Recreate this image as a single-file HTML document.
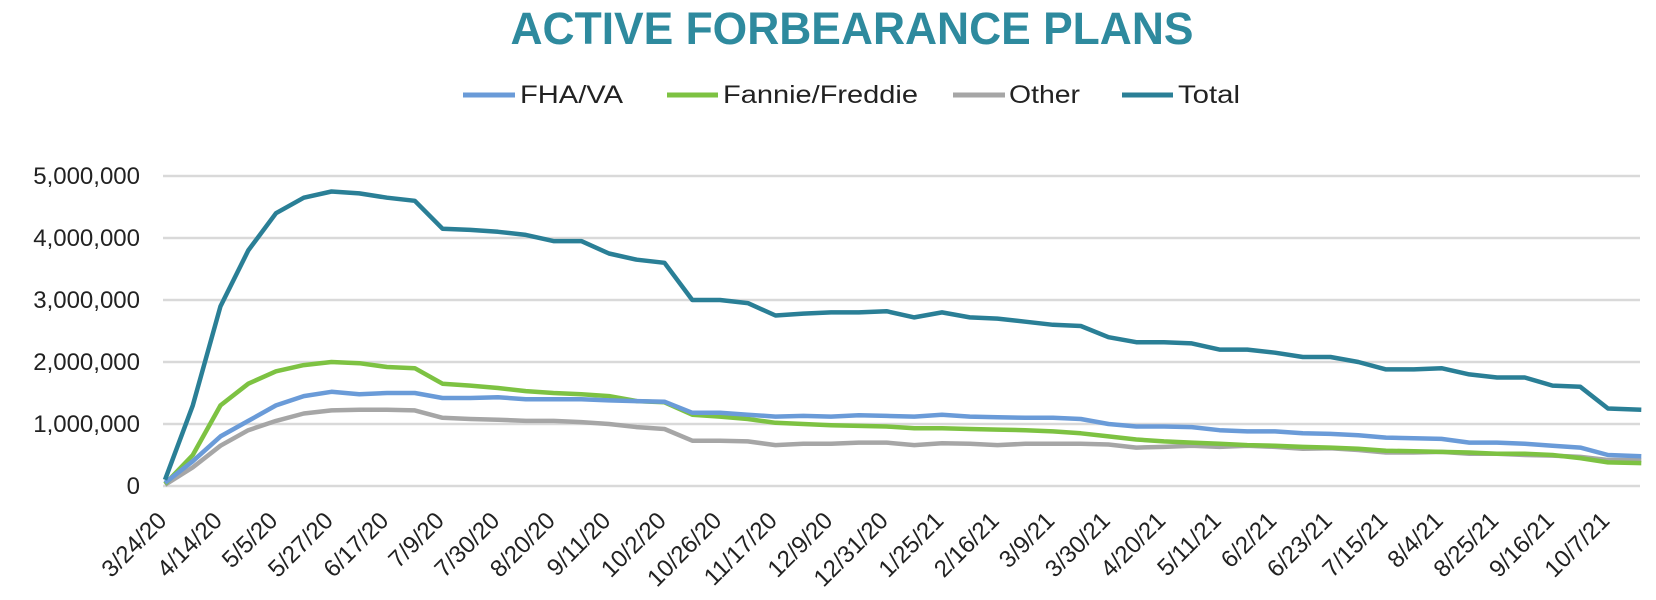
<!DOCTYPE html>
<html><head><meta charset="utf-8"><style>
html,body{margin:0;padding:0;background:#fff;}
svg{display:block;font-family:"Liberation Sans",Arial,sans-serif;}
</style></head><body>
<svg id="chart" width="1656" height="600">
<text x="852" y="44" text-anchor="middle" font-size="45" font-weight="bold" fill="#2e8a9e" textLength="683" lengthAdjust="spacingAndGlyphs">ACTIVE FORBEARANCE PLANS</text>
<g>
 <g><line x1="463" y1="95" x2="515" y2="95" stroke="#6a9bd8" stroke-width="5"/><text x="520" y="103" font-size="25" fill="#222" textLength="103" lengthAdjust="spacingAndGlyphs">FHA/VA</text></g>
 <g><line x1="667" y1="95" x2="718" y2="95" stroke="#7dc242" stroke-width="5"/><text x="723" y="103" font-size="25" fill="#222" textLength="195" lengthAdjust="spacingAndGlyphs">Fannie/Freddie</text></g>
 <g><line x1="953" y1="95" x2="1005" y2="95" stroke="#a6a6a6" stroke-width="5"/><text x="1009" y="103" font-size="25" fill="#222" textLength="71" lengthAdjust="spacingAndGlyphs">Other</text></g>
 <g><line x1="1122" y1="95" x2="1173" y2="95" stroke="#2a7f96" stroke-width="5"/><text x="1178" y="103" font-size="25" fill="#222" textLength="62" lengthAdjust="spacingAndGlyphs">Total</text></g>
</g>
<g id="grid"></g><g id="yaxis"></g><g id="xaxis"></g><g id="series"></g>
</svg>
<script>
const categories=["3/24/20","4/14/20","5/5/20","5/27/20","6/17/20","7/9/20","7/30/20","8/20/20","9/11/20","10/2/20","10/26/20","11/17/20","12/9/20","12/31/20","1/25/21","2/16/21","3/9/21","3/30/21","4/20/21","5/11/21","6/2/21","6/23/21","7/15/21","8/4/21","8/25/21","9/16/21","10/7/21"];
const yTicks=[0,1000000,2000000,3000000,4000000,5000000];
const yTickLabels=["0","1,000,000","2,000,000","3,000,000","4,000,000","5,000,000"];
const pointIndex=[0,0.5,1,1.5,2,2.5,3,3.5,4,4.5,5,5.5,6,6.5,7,7.5,8,8.5,9,9.5,10,10.5,11,11.5,12,12.5,13,13.5,14,14.5,15,15.5,16,16.5,17,17.5,18,18.5,19,19.5,20,20.5,21,21.5,22,22.5,23,23.5,24,24.5,25,25.5,26,26.6];
const totalK=[100,1300,2900,3800,4400,4650,4750,4720,4650,4600,4150,4130,4100,4050,3950,3950,3750,3650,3600,3000,3000,2950,2750,2780,2800,2800,2820,2720,2800,2720,2700,2650,2600,2580,2400,2320,2320,2300,2200,2200,2150,2080,2080,2000,1880,1880,1900,1800,1750,1750,1620,1600,1250,1230];
const fhaK=[50,400,800,1050,1300,1450,1520,1480,1500,1500,1420,1420,1430,1400,1400,1400,1380,1370,1360,1180,1180,1150,1120,1130,1120,1140,1130,1120,1150,1120,1110,1100,1100,1080,1000,960,960,950,900,880,880,850,840,820,780,770,760,700,700,680,650,620,500,480];
const fannieK=[30,500,1300,1650,1850,1950,2000,1980,1920,1900,1650,1620,1580,1530,1500,1480,1450,1370,1350,1150,1120,1080,1020,1000,980,970,960,930,930,920,910,900,880,850,800,750,720,700,680,660,650,630,620,600,570,560,550,540,520,520,500,450,380,370];
const otherK=[20,300,650,900,1050,1170,1220,1230,1230,1220,1100,1080,1070,1050,1050,1030,1000,950,920,730,730,720,660,680,680,700,700,660,690,680,660,680,680,680,670,620,630,650,630,650,630,600,610,580,540,540,550,520,520,500,490,470,420,420];
const NS="http://www.w3.org/2000/svg";
const X=i=>165+i*55.5;
const Y=v=>486-v/1000000*62;
function mk(tag,attrs,parent){const e=document.createElementNS(NS,tag);for(const k in attrs)e.setAttribute(k,attrs[k]);parent.appendChild(e);return e;}
const grid=document.getElementById('grid'),ya=document.getElementById('yaxis'),xa=document.getElementById('xaxis'),sr=document.getElementById('series');
yTicks.forEach((t,k)=>{
 const l=mk('line',{x1:163,x2:1640,y1:Y(t),y2:Y(t),stroke:'#d9d9d9','stroke-width':2.5},grid);
 
 
 const tx=mk('text',{x:140,y:Y(t)+8,'text-anchor':'end','font-size':24,fill:'#222'},ya);
 tx.textContent=yTickLabels[k];
 
 
});
categories.forEach((c,i)=>{
 const x=X(i)+3,y=522;
 const tx=mk('text',{x:x,y:y,'text-anchor':'end','font-size':24,fill:'#222',transform:`rotate(-45 ${x} ${y})`},xa);
 tx.textContent=c;
 
 
});
const series=[["other",otherK,"#a6a6a6"],["fannie-freddie",fannieK,"#7dc242"],["fha-va",fhaK,"#6a9bd8"],["total",totalK,"#2a7f96"]];
series.forEach(([n,vals,col])=>{
 const pts=vals.map((v,k)=>X(pointIndex[k]).toFixed(1)+","+Y(v*1000).toFixed(1)).join(" ");
 const p=mk('polyline',{points:pts,fill:'none',stroke:col,'stroke-width':4.5,'stroke-linejoin':'round'},sr);
 
 
});
</script>
</body></html>
